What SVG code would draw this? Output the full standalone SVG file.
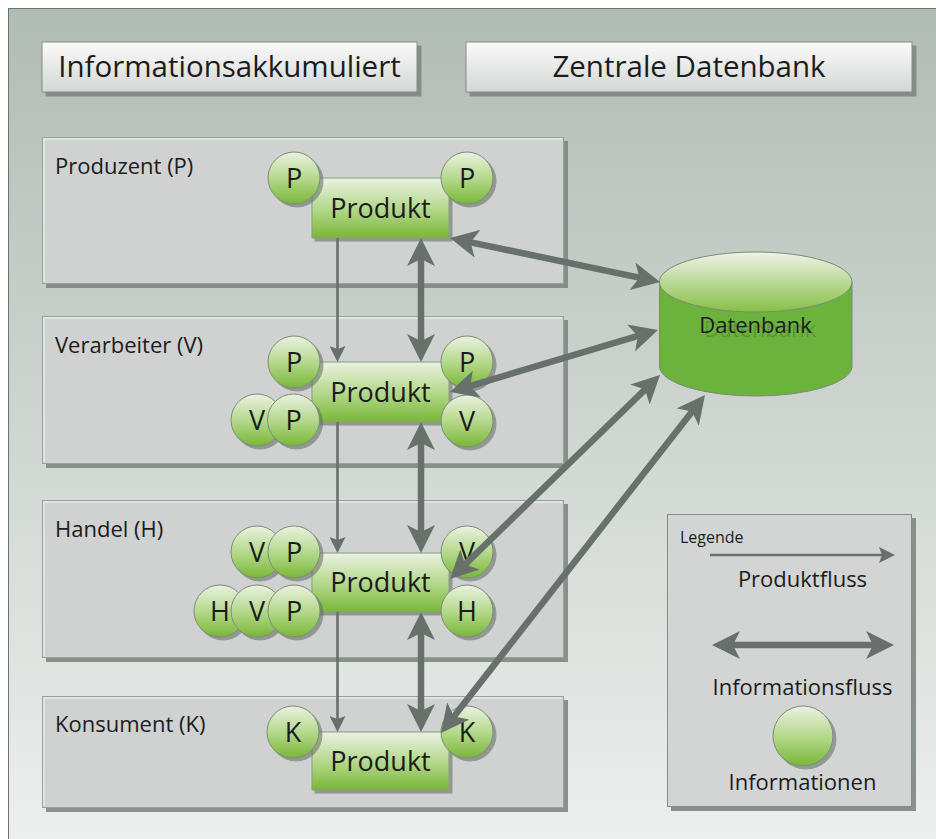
<svg xmlns="http://www.w3.org/2000/svg" width="936" height="839" viewBox="0 0 936 839">
  <defs>
    <linearGradient id="gBg" x1="0" y1="0" x2="0" y2="1">
      <stop offset="0" stop-color="#b1bcb4"/>
      <stop offset="1" stop-color="#eef0ef"/>
    </linearGradient>
    <linearGradient id="gTitle" x1="0" y1="0" x2="0" y2="1">
      <stop offset="0" stop-color="#fafafa"/>
      <stop offset="1" stop-color="#d4d7d5"/>
    </linearGradient>
    <linearGradient id="gGreen" x1="0" y1="0" x2="0" y2="1">
      <stop offset="0" stop-color="#eaf2e2"/>
      <stop offset="0.55" stop-color="#b0d685"/>
      <stop offset="1" stop-color="#78b738"/>
    </linearGradient>
    <linearGradient id="gTop" x1="0" y1="0" x2="0" y2="1">
      <stop offset="0" stop-color="#eff4e8"/>
      <stop offset="1" stop-color="#86bf45"/>
    </linearGradient>
    <filter id="shadow" x="-20%" y="-20%" width="140%" height="140%">
      <feDropShadow dx="3" dy="3" stdDeviation="0.6" flood-color="#5f6862" flood-opacity="0.55"/>
    </filter>
    <filter id="shadowHard" x="-10%" y="-10%" width="120%" height="120%">
      <feDropShadow dx="4" dy="4" stdDeviation="0.3" flood-color="#7f8781" flood-opacity="0.9"/>
    </filter>
    <marker id="headThin" markerUnits="userSpaceOnUse" markerWidth="16" markerHeight="16" viewBox="0 0 16 16" refX="4" refY="8" orient="auto-start-reverse">
      <path d="M0,0 L16,8 L0,16 L3,8 Z" fill="#67706a"/>
    </marker>
    <marker id="headThick" markerUnits="userSpaceOnUse" markerWidth="28" markerHeight="28" viewBox="0 0 28 28" refX="8" refY="14" orient="auto-start-reverse">
      <path d="M0,0 L28,14 L0,28 L7,14 Z" fill="#67706a"/>
    </marker>
  </defs>
  <style>
    text { font-family: "Open Sans", "Noto Sans", "Liberation Sans", sans-serif; fill: #1c1c1c; }
    .title { font-size: 29.5px; text-anchor: middle; }
    .lane { fill: #cfd2d0; stroke: #9aa19c; stroke-width: 1; filter: url(#shadowHard); }
    .laneHi { fill: none; stroke: #e2e4e3; stroke-width: 2; }
    .laneLabel { font-size: 22px; }
    .box { fill: url(#gGreen); stroke: #8a9c7c; stroke-width: 1; filter: url(#shadow); }
    .boxText { font-size: 27px; text-anchor: middle; }
    .info { fill: url(#gGreen); stroke: #7d8c74; stroke-width: 1; filter: url(#shadow); }
    .infoText { font-size: 27px; text-anchor: middle; }
    .thin { stroke: #67706a; stroke-width: 2.6; fill: none; marker-end: url(#headThin); }
    .thick { stroke: #67706a; stroke-width: 6.5; fill: none; marker-start: url(#headThick); marker-end: url(#headThick); }
    .legendText { font-size: 22px; text-anchor: middle; }
  </style>

  <!-- frame -->
  <rect x="8.5" y="8.5" width="940" height="850" fill="url(#gBg)" stroke="#6b746e" stroke-width="1"/>

  <!-- headers -->
  <g id="header-akkumuliert">
    <rect x="42" y="42" width="375" height="50" fill="url(#gTitle)" stroke="#858c87" stroke-width="1" filter="url(#shadowHard)"/>
    <text class="title" x="229.5" y="77">Informationsakkumuliert</text>
  </g>
  <g id="header-datenbank">
    <rect x="466" y="42" width="446" height="50" fill="url(#gTitle)" stroke="#858c87" stroke-width="1" filter="url(#shadowHard)"/>
    <text class="title" x="689" y="77">Zentrale Datenbank</text>
  </g>

  <!-- swimlanes -->
  <g id="lane-produzent">
    <rect class="lane" x="42.5" y="137.5" width="521" height="146"/>
    <polyline class="laneHi" points="44,282 44,139 562,139"/>
    <text class="laneLabel" x="55" y="174">Produzent (P)</text>
  </g>
  <g id="lane-verarbeiter">
    <rect class="lane" x="42.5" y="316.5" width="521" height="147"/>
    <polyline class="laneHi" points="44,462 44,318 562,318"/>
    <text class="laneLabel" x="55" y="353">Verarbeiter (V)</text>
  </g>
  <g id="lane-handel">
    <rect class="lane" x="42.5" y="500.5" width="521" height="157"/>
    <polyline class="laneHi" points="44,656 44,502 562,502"/>
    <text class="laneLabel" x="55" y="537">Handel (H)</text>
  </g>
  <g id="lane-konsument">
    <rect class="lane" x="42.5" y="696.5" width="521" height="111"/>
    <polyline class="laneHi" points="44,806 44,698 562,698"/>
    <text class="laneLabel" x="55" y="732">Konsument (K)</text>
  </g>

  <!-- database -->
  <g id="datenbank">
    <path d="M659.5,282 L659.5,367 A96.3,30 0 0 0 852,367 L852,282 Z" fill="#6cb33e" stroke="#7b8a76" stroke-width="1"/>
    <ellipse cx="755.7" cy="282" rx="96.3" ry="30" fill="url(#gTop)" stroke="#7b8a76" stroke-width="1"/>
    <text x="760" y="337" font-size="22" text-anchor="middle" style="fill:#3f5f2f" opacity="0.35">Datenbank</text>
    <text x="755.5" y="333" font-size="22" text-anchor="middle">Datenbank</text>
  </g>

  <!-- legend -->
  <g id="legende">
    <rect x="667.5" y="514.5" width="244" height="292" fill="#d3d5d4" stroke="#858d88" stroke-width="1" filter="url(#shadowHard)"/>
    <text x="680" y="543" font-size="16">Legende</text>
    <line class="thin" x1="710" y1="555" x2="883" y2="555"/>
    <text class="legendText" x="802.5" y="587">Produktfluss</text>
    <line class="thick" x1="732" y1="645" x2="874" y2="645"/>
    <text class="legendText" x="802.5" y="695">Informationsfluss</text>
    <circle class="info" cx="803" cy="736" r="30"/>
    <text class="legendText" x="802.5" y="790">Informationen</text>
  </g>

  <!-- Produzent -->
  <g id="produkt-p">
    <rect class="box" x="312" y="178" width="137" height="60"/>
    <text class="boxText" x="380.5" y="217.5">Produkt</text>
    <circle class="info" cx="294" cy="178" r="26"/>
    <text class="infoText" x="294" y="187.5">P</text>
    <circle class="info" cx="467" cy="178" r="26"/>
    <text class="infoText" x="467" y="187.5">P</text>
  </g>

  <!-- Verarbeiter -->
  <g id="produkt-v">
    <rect class="box" x="312" y="362" width="137" height="60"/>
    <text class="boxText" x="380.5" y="401.5">Produkt</text>
    <circle class="info" cx="294" cy="362" r="26"/>
    <text class="infoText" x="294" y="371.5">P</text>
    <circle class="info" cx="257" cy="420" r="26"/>
    <text class="infoText" x="257" y="429.5">V</text>
    <circle class="info" cx="293.5" cy="420" r="26"/>
    <text class="infoText" x="293.5" y="429.5">P</text>
    <circle class="info" cx="467" cy="362" r="26"/>
    <text class="infoText" x="467" y="371.5">P</text>
    <circle class="info" cx="467" cy="421" r="26"/>
    <text class="infoText" x="467" y="430.5">V</text>
  </g>

  <!-- Handel -->
  <g id="produkt-h">
    <rect class="box" x="312" y="553" width="137" height="59"/>
    <text class="boxText" x="380.5" y="592">Produkt</text>
    <circle class="info" cx="257" cy="552" r="26"/>
    <text class="infoText" x="257" y="561.5">V</text>
    <circle class="info" cx="294" cy="552" r="26"/>
    <text class="infoText" x="294" y="561.5">P</text>
    <circle class="info" cx="220" cy="611" r="26"/>
    <text class="infoText" x="220" y="620.5">H</text>
    <circle class="info" cx="257" cy="611" r="26"/>
    <text class="infoText" x="257" y="620.5">V</text>
    <circle class="info" cx="294" cy="611" r="26"/>
    <text class="infoText" x="294" y="620.5">P</text>
    <circle class="info" cx="467" cy="552" r="26"/>
    <text class="infoText" x="467" y="561.5">V</text>
    <circle class="info" cx="467" cy="611" r="26"/>
    <text class="infoText" x="467" y="620.5">H</text>
  </g>

  <!-- Konsument -->
  <g id="produkt-k">
    <rect class="box" x="312" y="732" width="137" height="58"/>
    <text class="boxText" x="380.5" y="770.5">Produkt</text>
    <circle class="info" cx="293" cy="732" r="26"/>
    <text class="infoText" x="293" y="741.5">K</text>
    <circle class="info" cx="467" cy="732" r="26"/>
    <text class="infoText" x="467" y="741.5">K</text>
  </g>

  <!-- flows -->
  <g id="connectors">
    <line class="thin" x1="337.5" y1="238" x2="337.5" y2="350"/>
    <line class="thin" x1="337.5" y1="422" x2="337.5" y2="541"/>
    <line class="thin" x1="337.5" y1="612" x2="337.5" y2="720"/>
    <line class="thick" x1="421" y1="258" x2="421" y2="342"/>
    <line class="thick" x1="421" y1="442" x2="421" y2="533"/>
    <line class="thick" x1="421" y1="632" x2="421" y2="712"/>
    <line class="thick" x1="469.6" y1="242.1" x2="640.4" y2="277.9"/>
    <line class="thick" x1="469.2" y1="386.3" x2="638.8" y2="335.7"/>
    <line class="thick" x1="464.3" y1="565.1" x2="645.7" y2="388.9"/>
    <line class="thick" x1="453.3" y1="717.2" x2="692.7" y2="410.8"/>
  </g>
</svg>
